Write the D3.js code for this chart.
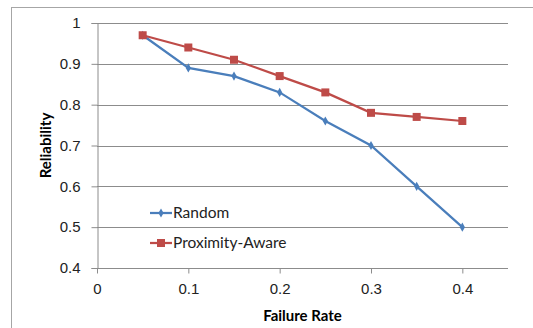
<!DOCTYPE html>
<html>
<head>
<meta charset="utf-8">
<script src="https://cdn.jsdelivr.net/npm/d3@7"></script>
<style>
  body { margin: 0; background: #fff; }
  svg { display: block; font-family: Lato, "Open Sans", sans-serif; }
</style>
</head>
<body>
<div class="chart"></div>
<script>
const failureRates = [0.05, 0.1, 0.15, 0.2, 0.25, 0.3, 0.35, 0.4];
const randomValues = [0.97, 0.89, 0.87, 0.83, 0.76, 0.70, 0.60, 0.50];
const proximityValues = [0.97, 0.94, 0.91, 0.87, 0.83, 0.78, 0.77, 0.76];
const xTicks = [0, 0.1, 0.2, 0.3, 0.4];
const yTicks = [0.4, 0.5, 0.6, 0.7, 0.8, 0.9, 1];
const seriesNames = ["Random", "Proximity-Aware"];

const width = 533, height = 328;
const margin = {left: 97, right: 25, top: 23, bottom: 60};

const svg = d3.select('.chart').append('svg')
    .attr('width', width)
    .attr('height', height);

// outer chart border (only left and top visible in the crop)
svg.append('rect')
    .attr('x', 11.5).attr('y', 7.5)
    .attr('width', 540).attr('height', 340)
    .attr('fill', 'none')
    .attr('stroke', '#a6a6a6');

const x = d3.scaleLinear()
    .domain([0, 0.45])
    .range([margin.left, width - margin.right]);

const y = d3.scaleLinear()
    .domain([0.4, 1])
    .range([height - margin.bottom, margin.top]);

// gridlines
svg.append('g')
    .selectAll('line')
    .data(yTicks.filter(d => d > 0.4))
    .join('line')
    .attr('x1', x(0)).attr('x2', x(0.45))
    .attr('y1', d => Math.round(y(d)) + 0.5)
    .attr('y2', d => Math.round(y(d)) + 0.5)
    .attr('stroke', '#8c8c8c');

// y axis
svg.append('g')
    .attr('transform', `translate(${Math.round(x(0)) + 0.5},0)`)
    .call(d3.axisLeft(y).tickValues(yTicks).tickSize(6).tickPadding(11).tickFormat(d3.format('')))
    .call(g => g.select('.domain').attr('stroke', '#8c8c8c'))
    .call(g => g.selectAll('.tick line').attr('stroke', '#8c8c8c'))
    .call(g => g.selectAll('.tick text').style('font-size', '15px').attr('fill', '#222'));

// x axis
svg.append('g')
    .attr('transform', `translate(0,${Math.round(y(0.4)) + 0.5})`)
    .call(d3.axisBottom(x).tickValues(xTicks).tickSize(5).tickPadding(10).tickFormat(d3.format('')))
    .call(g => g.select('.domain').attr('d', `M${x(0)},0H${x(0.45)}`).attr('stroke', '#8c8c8c'))
    .call(g => g.selectAll('.tick line').attr('stroke', '#8c8c8c'))
    .call(g => g.selectAll('.tick text').style('font-size', '15px').attr('fill', '#222'));

// axis titles
svg.append('text')
    .attr('x', (x(0) + x(0.45)) / 2)
    .attr('y', 321)
    .attr('text-anchor', 'middle')
    .style('font-size', '15px').style('font-weight', 'bold')
    .text('Failure Rate');

svg.append('text')
    .attr('transform', `translate(51,${(y(0.4) + y(1)) / 2}) rotate(-90)`)
    .attr('text-anchor', 'middle')
    .style('font-size', '15px').style('font-weight', 'bold')
    .text('Reliability');

const line = d3.line()
    .x((d, i) => x(failureRates[i]))
    .y(d => y(d));

const colors = ['#4a7ebb', '#be4b48'];

// Random series
svg.append('path')
    .attr('d', line(randomValues))
    .attr('fill', 'none').attr('stroke', colors[0]).attr('stroke-width', 2.25);
svg.append('g')
    .selectAll('path')
    .data(randomValues)
    .join('path')
    .attr('d', d3.symbol(d3.symbolDiamond, 24))
    .attr('transform', (d, i) => `translate(${x(failureRates[i])},${y(d)})`)
    .attr('fill', colors[0]);

// Proximity-Aware series
svg.append('path')
    .attr('d', line(proximityValues))
    .attr('fill', 'none').attr('stroke', colors[1]).attr('stroke-width', 2.25);
svg.append('g')
    .selectAll('rect')
    .data(proximityValues)
    .join('rect')
    .attr('x', (d, i) => x(failureRates[i]) - 4)
    .attr('y', d => y(d) - 4)
    .attr('width', 8).attr('height', 8)
    .attr('fill', colors[1]);

// legend
const legend = svg.append('g')
    .selectAll('g')
    .data(seriesNames)
    .join('g')
    .attr('transform', (d, i) => `translate(150,${213 + i * 30})`);

legend.append('line')
    .attr('x1', 0).attr('x2', 22)
    .attr('stroke', (d, i) => colors[i]).attr('stroke-width', 2.25);
legend.filter((d, i) => i === 0).append('path')
    .attr('d', d3.symbol(d3.symbolDiamond, 24))
    .attr('transform', 'translate(11,0)')
    .attr('fill', colors[0]);
legend.filter((d, i) => i === 1).append('rect')
    .attr('x', 7).attr('y', -4).attr('width', 8).attr('height', 8)
    .attr('fill', colors[1]);
legend.append('text')
    .attr('x', 23).attr('dy', '0.35em')
    .style('font-size', '15.5px').attr('fill', '#222')
    .text(d => d);
</script>
</body>
</html>
